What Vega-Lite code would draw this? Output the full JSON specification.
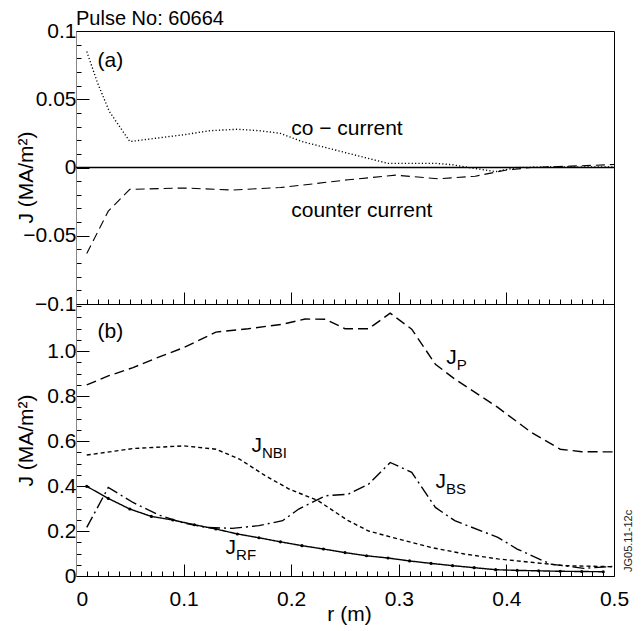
{
  "$schema": "https://vega.github.io/schema/vega-lite/v6.json",
  "padding": {"left": 14, "top": 8, "right": 0, "bottom": 0},
  "background": "white",
  "spacing": 0,
  "bounds": "flush",
  "resolve": {"scale": {"strokeDash": "independent", "strokeWidth": "independent"}},
  "datasets": {
    "a": [
      {"series": "zero", "r": 0, "J": 0}, {"series": "zero", "r": 0.5, "J": 0},
      {"series": "co", "r": 0.01, "J": 0.085}, {"series": "co", "r": 0.02, "J": 0.062}, {"series": "co", "r": 0.031, "J": 0.041},
      {"series": "co", "r": 0.05, "J": 0.019}, {"series": "co", "r": 0.07, "J": 0.021}, {"series": "co", "r": 0.1, "J": 0.024},
      {"series": "co", "r": 0.125, "J": 0.027}, {"series": "co", "r": 0.15, "J": 0.028}, {"series": "co", "r": 0.17, "J": 0.027},
      {"series": "co", "r": 0.19, "J": 0.025}, {"series": "co", "r": 0.21, "J": 0.019}, {"series": "co", "r": 0.23, "J": 0.015},
      {"series": "co", "r": 0.25, "J": 0.011}, {"series": "co", "r": 0.27, "J": 0.007}, {"series": "co", "r": 0.29, "J": 0.003},
      {"series": "co", "r": 0.31, "J": 0.003}, {"series": "co", "r": 0.335, "J": 0.003}, {"series": "co", "r": 0.35, "J": 0.002},
      {"series": "co", "r": 0.365, "J": 0.0}, {"series": "co", "r": 0.39, "J": -0.003}, {"series": "co", "r": 0.41, "J": 0.0},
      {"series": "co", "r": 0.45, "J": 0.0005}, {"series": "co", "r": 0.5, "J": 0.0005},
      {"series": "counter", "r": 0.01, "J": -0.063}, {"series": "counter", "r": 0.03, "J": -0.032}, {"series": "counter", "r": 0.05, "J": -0.016},
      {"series": "counter", "r": 0.1, "J": -0.015}, {"series": "counter", "r": 0.145, "J": -0.0165}, {"series": "counter", "r": 0.19, "J": -0.0147},
      {"series": "counter", "r": 0.22, "J": -0.012}, {"series": "counter", "r": 0.253, "J": -0.009}, {"series": "counter", "r": 0.297, "J": -0.0056},
      {"series": "counter", "r": 0.337, "J": -0.0083}, {"series": "counter", "r": 0.371, "J": -0.0064}, {"series": "counter", "r": 0.399, "J": -0.002},
      {"series": "counter", "r": 0.423, "J": 0.0}, {"series": "counter", "r": 0.46, "J": 0.001}, {"series": "counter", "r": 0.5, "J": 0.0022}
    ],
    "la": [
      {"r": 0.02, "J": 0.078, "text": "(a)"},
      {"r": 0.2, "J": 0.0285, "text": "co − current"},
      {"r": 0.2, "J": -0.032, "text": "counter current"}
    ],
    "ttl": [
      {"r": 0, "J": 0.1044, "text": "Pulse No: 60664"}
    ],
    "b": [
      {"series": "JP", "r": 0.01, "J": 0.85}, {"series": "JP", "r": 0.03, "J": 0.89}, {"series": "JP", "r": 0.053, "J": 0.927},
      {"series": "JP", "r": 0.075, "J": 0.97}, {"series": "JP", "r": 0.1, "J": 1.016}, {"series": "JP", "r": 0.13, "J": 1.085},
      {"series": "JP", "r": 0.16, "J": 1.1}, {"series": "JP", "r": 0.192, "J": 1.12}, {"series": "JP", "r": 0.213, "J": 1.143},
      {"series": "JP", "r": 0.232, "J": 1.142}, {"series": "JP", "r": 0.25, "J": 1.1}, {"series": "JP", "r": 0.272, "J": 1.1},
      {"series": "JP", "r": 0.292, "J": 1.169}, {"series": "JP", "r": 0.312, "J": 1.098}, {"series": "JP", "r": 0.334, "J": 0.942},
      {"series": "JP", "r": 0.352, "J": 0.876}, {"series": "JP", "r": 0.392, "J": 0.75}, {"series": "JP", "r": 0.423, "J": 0.639},
      {"series": "JP", "r": 0.45, "J": 0.564}, {"series": "JP", "r": 0.47, "J": 0.553}, {"series": "JP", "r": 0.5, "J": 0.552},
      {"series": "JNBI", "r": 0.01, "J": 0.538}, {"series": "JNBI", "r": 0.053, "J": 0.567}, {"series": "JNBI", "r": 0.1, "J": 0.579},
      {"series": "JNBI", "r": 0.13, "J": 0.564}, {"series": "JNBI", "r": 0.152, "J": 0.52}, {"series": "JNBI", "r": 0.176, "J": 0.446},
      {"series": "JNBI", "r": 0.198, "J": 0.387}, {"series": "JNBI", "r": 0.225, "J": 0.335}, {"series": "JNBI", "r": 0.253, "J": 0.246},
      {"series": "JNBI", "r": 0.272, "J": 0.2}, {"series": "JNBI", "r": 0.3, "J": 0.164}, {"series": "JNBI", "r": 0.33, "J": 0.127},
      {"series": "JNBI", "r": 0.361, "J": 0.098}, {"series": "JNBI", "r": 0.392, "J": 0.076}, {"series": "JNBI", "r": 0.423, "J": 0.061},
      {"series": "JNBI", "r": 0.454, "J": 0.046}, {"series": "JNBI", "r": 0.5, "J": 0.041},
      {"series": "JBS", "r": 0.01, "J": 0.216}, {"series": "JBS", "r": 0.03, "J": 0.394}, {"series": "JBS", "r": 0.053, "J": 0.327},
      {"series": "JBS", "r": 0.077, "J": 0.271}, {"series": "JBS", "r": 0.1, "J": 0.236}, {"series": "JBS", "r": 0.121, "J": 0.216},
      {"series": "JBS", "r": 0.145, "J": 0.212}, {"series": "JBS", "r": 0.17, "J": 0.224}, {"series": "JBS", "r": 0.192, "J": 0.246},
      {"series": "JBS", "r": 0.207, "J": 0.298}, {"series": "JBS", "r": 0.232, "J": 0.357}, {"series": "JBS", "r": 0.253, "J": 0.364},
      {"series": "JBS", "r": 0.272, "J": 0.409}, {"series": "JBS", "r": 0.292, "J": 0.505}, {"series": "JBS", "r": 0.312, "J": 0.461},
      {"series": "JBS", "r": 0.334, "J": 0.305}, {"series": "JBS", "r": 0.352, "J": 0.246}, {"series": "JBS", "r": 0.392, "J": 0.172},
      {"series": "JBS", "r": 0.41, "J": 0.12}, {"series": "JBS", "r": 0.441, "J": 0.053}, {"series": "JBS", "r": 0.472, "J": 0.034},
      {"series": "JBS", "r": 0.5, "J": 0.043},
      {"series": "JRF", "r": 0.01, "J": 0.399}, {"series": "JRF", "r": 0.03, "J": 0.345}, {"series": "JRF", "r": 0.05, "J": 0.298},
      {"series": "JRF", "r": 0.07, "J": 0.265}, {"series": "JRF", "r": 0.09, "J": 0.249}, {"series": "JRF", "r": 0.11, "J": 0.228},
      {"series": "JRF", "r": 0.13, "J": 0.209}, {"series": "JRF", "r": 0.15, "J": 0.187}, {"series": "JRF", "r": 0.17, "J": 0.17},
      {"series": "JRF", "r": 0.19, "J": 0.152}, {"series": "JRF", "r": 0.21, "J": 0.135}, {"series": "JRF", "r": 0.23, "J": 0.12},
      {"series": "JRF", "r": 0.25, "J": 0.104}, {"series": "JRF", "r": 0.27, "J": 0.09}, {"series": "JRF", "r": 0.29, "J": 0.08},
      {"series": "JRF", "r": 0.31, "J": 0.067}, {"series": "JRF", "r": 0.33, "J": 0.056}, {"series": "JRF", "r": 0.35, "J": 0.046},
      {"series": "JRF", "r": 0.37, "J": 0.037}, {"series": "JRF", "r": 0.39, "J": 0.028}, {"series": "JRF", "r": 0.41, "J": 0.025},
      {"series": "JRF", "r": 0.43, "J": 0.023}, {"series": "JRF", "r": 0.45, "J": 0.021}, {"series": "JRF", "r": 0.47, "J": 0.02},
      {"series": "JRF", "r": 0.49, "J": 0.019}
    ],
    "lb": [
      {"r": 0.02, "J": 1.084, "text": "(b)", "sub": ""},
      {"r": 0.344, "J": 0.969, "text": "J", "sub": "P"},
      {"r": 0.163, "J": 0.578, "text": "J", "sub": "NBI"},
      {"r": 0.334, "J": 0.42, "text": "J", "sub": "BS"},
      {"r": 0.139, "J": 0.124, "text": "J", "sub": "RF"}
    ],
    "stamp": [
      {"r": 0.514, "J": 0.156, "text": "JG05.11-12c"}
    ]
  },
  "vconcat": [
    {
      "width": 538,
      "height": 273,
      "encoding": {
        "x": {
          "field": "r", "type": "quantitative",
          "scale": {"domain": [0, 0.5], "nice": false, "zero": false},
          "axis": {
            "orient": "bottom", "title": null, "labels": false, "domain": false,
            "values": [0,0.01,0.02,0.03,0.04,0.05,0.06,0.07,0.08,0.09,0.1,0.11,0.12,0.13,0.14,0.15,0.16,0.17,0.18,0.19,0.2,0.21,0.22,0.23,0.24,0.25,0.26,0.27,0.28,0.29,0.3,0.31,0.32,0.33,0.34,0.35,0.36,0.37,0.38,0.39,0.4,0.41,0.42,0.43,0.44,0.45,0.46,0.47,0.48,0.49,0.5],
            "tickSize": {"condition": {"test": "abs(datum.value*10-round(datum.value*10))<1e-6", "value": -12}, "value": -5}
          }
        },
        "y": {
          "field": "J", "type": "quantitative",
          "scale": {"domain": [-0.1, 0.1], "nice": false, "zero": false},
          "axis": {
            "orient": "left", "title": "J (MA/m²)",
            "values": [-0.1,-0.09,-0.08,-0.07,-0.06,-0.05,-0.04,-0.03,-0.02,-0.01,0,0.01,0.02,0.03,0.04,0.05,0.06,0.07,0.08,0.09,0.1],
            "labelExpr": "abs(datum.value*20-round(datum.value*20))<1e-6 ? replace(format(datum.value,'~g'),'-','−') : ''",
            "tickSize": {"condition": {"test": "abs(datum.value*20-round(datum.value*20))<1e-6", "value": -13}, "value": -5},
            "labelPadding": 13,
            "titleX": -44, "titleY": 146, "titleBaseline": "alphabetic", "titleAngle": 270, "titleAlign": "center"
          }
        }
      },
      "layer": [
        {
          "data": {"name": "a"},
          "mark": {"type": "line", "color": "black"},
          "encoding": {
            "detail": {"field": "series"},
            "strokeDash": {"field": "series", "type": "nominal", "scale": {"domain": ["zero", "co", "counter"], "range": [[1, 0], [1.2, 2.2], [9, 5]]}, "legend": null},
            "strokeWidth": {"field": "series", "type": "nominal", "scale": {"domain": ["zero", "co", "counter"], "range": [1.6, 1.1, 1.4]}, "legend": null}
          }
        },
        {
          "data": {"name": "la"},
          "mark": {"type": "text", "align": "left", "baseline": "middle", "fontSize": 21, "font": "Liberation Sans", "color": "black"},
          "encoding": {"text": {"field": "text"}}
        },
        {
          "data": {"name": "ttl"},
          "mark": {"type": "text", "align": "left", "baseline": "alphabetic", "fontSize": 20, "font": "Liberation Sans", "color": "black", "clip": false},
          "encoding": {"text": {"field": "text"}}
        }
      ]
    },
    {
      "width": 538,
      "height": 272,
      "encoding": {
        "x": {
          "field": "r", "type": "quantitative",
          "scale": {"domain": [0, 0.5], "nice": false, "zero": false},
          "axis": {
            "orient": "bottom", "title": "r (m)", "domain": false,
            "values": [0,0.01,0.02,0.03,0.04,0.05,0.06,0.07,0.08,0.09,0.1,0.11,0.12,0.13,0.14,0.15,0.16,0.17,0.18,0.19,0.2,0.21,0.22,0.23,0.24,0.25,0.26,0.27,0.28,0.29,0.3,0.31,0.32,0.33,0.34,0.35,0.36,0.37,0.38,0.39,0.4,0.41,0.42,0.43,0.44,0.45,0.46,0.47,0.48,0.49,0.5],
            "labelExpr": "abs(datum.value*10-round(datum.value*10))<1e-6 ? format(datum.value,'~g') : ''",
            "labelFlush": false,
            "labelAlign": {"condition": {"test": "datum.value == 0", "value": "left"}, "value": "center"},
            "labelBaseline": "top",
            "labelPadding": 24,
            "tickSize": {"condition": {"test": "abs(datum.value*10-round(datum.value*10))<1e-6", "value": -12}, "value": -5},
            "titleX": 273, "titleY": 44, "titleBaseline": "alphabetic", "titleAlign": "center"
          }
        },
        "y": {
          "field": "J", "type": "quantitative",
          "scale": {"domain": [0, 1.21], "nice": false, "zero": false},
          "axis": {
            "orient": "left", "title": "J (MA/m²)",
            "values": [0,0.05,0.1,0.15,0.2,0.25,0.3,0.35,0.4,0.45,0.5,0.55,0.6,0.65,0.7,0.75,0.8,0.85,0.9,0.95,1,1.05,1.1,1.15,1.2],
            "labelExpr": "(abs(datum.value*5-round(datum.value*5))<1e-6 && datum.value<1.1) ? (datum.value==0 ? '0' : format(datum.value,'.1f')) : ''",
            "tickSize": {"condition": {"test": "abs(datum.value*5-round(datum.value*5))<1e-6 && datum.value<1.1", "value": -13}, "value": -5},
            "labelPadding": 13,
            "titleX": -44, "titleY": 136, "titleBaseline": "alphabetic", "titleAngle": 270, "titleAlign": "center"
          }
        }
      },
      "layer": [
        {
          "data": {"name": "b"},
          "mark": {"type": "line", "color": "black"},
          "encoding": {
            "detail": {"field": "series"},
            "strokeDash": {"field": "series", "type": "nominal", "scale": {"domain": ["JP", "JNBI", "JBS", "JRF"], "range": [[10, 5], [4, 3], [12, 4, 2, 4], [1, 0]]}, "legend": null},
            "strokeWidth": {"field": "series", "type": "nominal", "scale": {"domain": ["JP", "JNBI", "JBS", "JRF"], "range": [1.4, 1.4, 1.3, 1.9]}, "legend": null}
          }
        },
        {
          "data": {"name": "b"},
          "transform": [{"filter": "datum.series == 'JRF'"}],
          "mark": {"type": "point", "filled": true, "color": "black", "size": 10, "opacity": 1}
        },
        {
          "data": {"name": "lb"},
          "mark": {"type": "text", "align": "left", "baseline": "middle", "fontSize": 21, "font": "Liberation Sans", "color": "black"},
          "encoding": {"text": {"field": "text"}}
        },
        {
          "data": {"name": "lb"},
          "mark": {"type": "text", "align": "left", "baseline": "middle", "fontSize": 15, "font": "Liberation Sans", "color": "black", "dx": 10.5, "dy": 7},
          "encoding": {"text": {"field": "sub"}}
        },
        {
          "data": {"name": "stamp"},
          "mark": {"type": "text", "align": "center", "baseline": "middle", "fontSize": 11, "font": "Liberation Sans", "color": "#222222", "angle": 270, "clip": false},
          "encoding": {"text": {"field": "text"}}
        }
      ]
    }
  ],
  "config": {
    "view": {"stroke": "black", "strokeWidth": 1},
    "axis": {
      "labelFont": "Liberation Sans", "titleFont": "Liberation Sans",
      "labelFontSize": 21, "titleFontSize": 21, "titleFontWeight": "normal",
      "labelColor": "black", "titleColor": "black", "tickColor": "black", "tickWidth": 1,
      "grid": false, "labelOverlap": false, "labelBound": false, "titlePadding": 0
    }
  }
}
